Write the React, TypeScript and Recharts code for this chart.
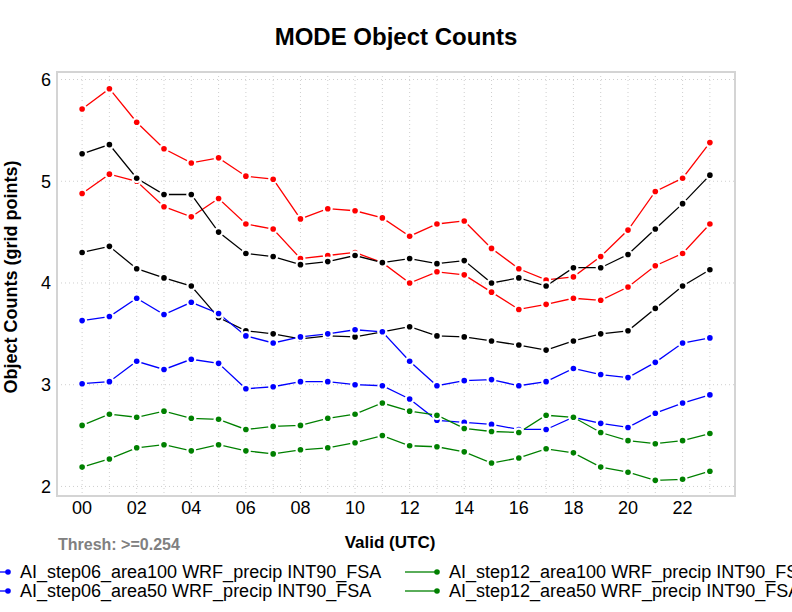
import React from 'react'
import { LineChart, Line, XAxis, YAxis, CartesianGrid, ReferenceArea } from 'recharts'

const hours = [0, 1, 2, 3, 4, 5, 6, 7, 8, 9, 10, 11, 12, 13, 14, 15, 16, 17, 18, 19, 20, 21, 22, 23]

const red1 = [5.71, 5.91, 5.58, 5.32, 5.18, 5.23, 5.05, 5.02, 4.63, 4.73, 4.71, 4.64, 4.46, 4.58, 4.61, 4.34, 4.14, 4.03, 4.06, 4.26, 4.52, 4.9, 5.03, 5.38]
const red2 = [4.88, 5.07, 5.0, 4.75, 4.65, 4.83, 4.58, 4.53, 4.24, 4.27, 4.3, 4.2, 4.0, 4.11, 4.08, 3.91, 3.74, 3.79, 3.85, 3.83, 3.96, 4.17, 4.29, 4.58]
const black1 = [5.27, 5.36, 5.03, 4.87, 4.87, 4.5, 4.29, 4.26, 4.18, 4.21, 4.27, 4.2, 4.24, 4.19, 4.22, 4.0, 4.05, 3.97, 4.15, 4.15, 4.28, 4.53, 4.78, 5.06]
const black2 = [4.3, 4.36, 4.14, 4.05, 3.97, 3.66, 3.53, 3.5, 3.45, 3.48, 3.47, 3.52, 3.57, 3.48, 3.47, 3.43, 3.39, 3.34, 3.43, 3.5, 3.53, 3.75, 3.97, 4.13]
const blue1 = [3.63, 3.67, 3.85, 3.69, 3.81, 3.7, 3.48, 3.41, 3.47, 3.5, 3.54, 3.52, 3.23, 2.99, 3.04, 3.05, 2.99, 3.03, 3.16, 3.1, 3.07, 3.22, 3.41, 3.46]
const blue2 = [3.01, 3.03, 3.23, 3.15, 3.25, 3.21, 2.96, 2.98, 3.03, 3.03, 3.0, 2.99, 2.86, 2.65, 2.63, 2.61, 2.56, 2.56, 2.68, 2.62, 2.58, 2.72, 2.82, 2.9]
const green1 = [2.6, 2.71, 2.68, 2.74, 2.67, 2.66, 2.56, 2.59, 2.6, 2.67, 2.71, 2.82, 2.74, 2.7, 2.57, 2.54, 2.53, 2.7, 2.68, 2.53, 2.45, 2.42, 2.45, 2.52]
const green2 = [2.19, 2.27, 2.38, 2.41, 2.35, 2.41, 2.35, 2.32, 2.36, 2.38, 2.43, 2.5, 2.4, 2.39, 2.34, 2.23, 2.28, 2.37, 2.33, 2.19, 2.14, 2.06, 2.07, 2.15]

const yTicks = [2, 3, 4, 5, 6]

const series = [
  { key: 'red1', color: '#ff0000', values: red1 },
  { key: 'red2', color: '#ff0000', values: red2 },
  { key: 'black1', color: '#000000', values: black1 },
  { key: 'black2', color: '#000000', values: black2 },
  { key: 'blue1', color: '#0000ff', values: blue1 },
  { key: 'blue2', color: '#0000ff', values: blue2 },
  { key: 'green1', color: '#008000', values: green1 },
  { key: 'green2', color: '#008000', values: green2 },
]

const legendItems = [
  { name: 'AI_step06_area100 WRF_precip INT90_FSA', color: '#0000ff' },
  { name: 'AI_step12_area100 WRF_precip INT90_FSA', color: '#008000' },
  { name: 'AI_step06_area50 WRF_precip INT90_FSA', color: '#0000ff' },
  { name: 'AI_step12_area50 WRF_precip INT90_FSA', color: '#008000' },
]

const data = hours.map((h, i) => {
  const row: Record<string, number> = { hour: h }
  series.forEach((s) => {
    row[s.key] = s.values[i]
  })
  return row
})

const font = '"Liberation Sans", Arial, sans-serif'

const haloDot = (color: string) => (props: any) => {
  const { cx, cy, index } = props
  return (
    <g key={index}>
      <circle cx={cx} cy={cy} r={5} fill="#ffffff" />
      <circle cx={cx} cy={cy} r={2.8} fill={color} />
    </g>
  )
}

export default function App() {
  return (
    <div style={{ position: 'absolute', left: 0, top: 0, width: 792, height: 612, overflow: 'hidden', background: '#fff', fontFamily: font }}>
      <div style={{ position: 'absolute', left: 0, top: 23, width: 792, textAlign: 'center', fontSize: 24, fontWeight: 'bold' }}>
        MODE Object Counts
      </div>
      <div
        style={{
          position: 'absolute',
          left: 11,
          top: 277,
          transform: 'translate(-50%, -50%) rotate(-90deg)',
          fontSize: 18,
          fontWeight: 'bold',
          whiteSpace: 'nowrap',
        }}
      >
        Object Counts (grid points)
      </div>
      <LineChart width={792} height={612} data={data} margin={{ top: 72, right: 57, bottom: 86, left: 0 }}>
        <CartesianGrid stroke="#cfcfcf" strokeDasharray="1 3" vertical horizontal />
        <XAxis
          dataKey="hour"
          type="number"
          domain={[-0.92, 23.92]}
          ticks={hours}
          interval={0}
          height={30}
          tickLine={false}
          tickSize={3}
          axisLine={false}
          tick={{ fontSize: 18, fill: '#000', fontFamily: font }}
          tickFormatter={(v: number) => (v % 2 === 0 ? String(v).padStart(2, '0') : '')}
          allowDataOverflow
        />
        <YAxis
          type="number"
          domain={[1.906, 6.074]}
          ticks={yTicks}
          width={57}
          tickLine={false}
          tickSize={4}
          axisLine={false}
          tick={{ fontSize: 18, fill: '#000', fontFamily: font }}
          allowDataOverflow
        />
        <ReferenceArea x1={-0.92} x2={23.92} y1={1.906} y2={6.074} fill="none" stroke="#d4d4d4" strokeWidth={2} />
        {series.map((s) => (
          <Line
            key={s.key}
            dataKey={s.key}
            stroke={s.color}
            strokeWidth={1.3}
            dot={haloDot(s.color)}
            activeDot={false}
            isAnimationActive={false}
          />
        ))}
      </LineChart>
      <div style={{ position: 'absolute', left: 290, top: 533, width: 200, textAlign: 'center', fontSize: 17, fontWeight: 'bold' }}>
        Valid (UTC)
      </div>
      <div style={{ position: 'absolute', left: 58, top: 536, fontSize: 16, fontWeight: 'bold', color: '#808080' }}>
        Thresh: &gt;=0.254
      </div>
      {legendItems.map((item, i) => {
        const col = i % 2
        const row = Math.floor(i / 2)
        const lineLeft = col === 0 ? -24 : 405
        const top = 562 + row * 19
        return (
          <div key={item.name} style={{ position: 'absolute', left: lineLeft, top, height: 20, display: 'flex', alignItems: 'center', whiteSpace: 'nowrap' }}>
            <svg width={36} height={20}>
              <line x1={0} y1={10} x2={32} y2={10} stroke={item.color} strokeWidth={1.3} />
              <circle cx={32} cy={10} r={2.8} fill={item.color} />
            </svg>
            <span style={{ fontSize: 18, marginLeft: 8 }}>{item.name}</span>
          </div>
        )
      })}
    </div>
  )
}
